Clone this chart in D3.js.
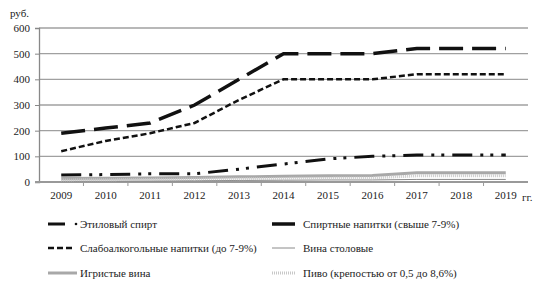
<!DOCTYPE html>
<html>
<head>
<meta charset="utf-8">
<script src="https://cdn.jsdelivr.net/npm/d3@7"></script>
<style>
body { margin: 0; background: #fff; }
svg text { font-family: "Liberation Serif", "Times New Roman", "DejaVu Serif", serif; fill: #222; }
</style>
</head>
<body>
<svg id="chart" width="547" height="287"></svg>
<script>
var years = ["2009", "2010", "2011", "2012", "2013", "2014", "2015", "2016", "2017", "2018", "2019"];
var yTicks = [0, 100, 200, 300, 400, 500, 600];
var ethyl = [27, 29, 32, 32, 50, 70, 90, 100, 105, 105, 105];
var spirits = [190, 210, 230, 300, 400, 500, 500, 500, 520, 520, 520];
var lowAlc = [120, 160, 190, 230, 320, 400, 400, 400, 420, 420, 420];
var tableWine = [3, 3, 4, 5, 6, 7, 8, 8, 10, 10, 10];
var sparkling = [14, 15, 16, 18, 20, 22, 24, 25, 36, 36, 36];
var beer = [8, 9, 10, 12, 13, 14, 15, 16, 24, 24, 24];

var series = [
    { name: "Вина столовые", values: tableWine, color: "#8a8a8a", width: 1, dash: null },
    { name: "Игристые вина", values: sparkling, color: "#a8a8a8", width: 3, dash: null },
    { name: "Пиво (крепостью от 0,5 до 8,6%)", values: beer, color: "#c8c8c8", width: 3, dash: "1,1" },
    { name: "Этиловый спирт", values: ethyl, color: "#111", width: 3, dash: "20,8,3,7,3,8" },
    { name: "Слабоалкогольные напитки (до 7-9%)", values: lowAlc, color: "#111", width: 2.5, dash: "6,3" },
    { name: "Спиртные напитки (свыше 7-9%)", values: spirits, color: "#111", width: 3.5, dash: "24,9" }
];

var svg = d3.select("#chart");
var mLeft = 39, mRight = 528, mTop = 28, mBottom = 182;

var x = d3.scaleBand().domain(years).range([mLeft, mRight]);
var y = d3.scaleLinear().domain([0, 600]).range([mBottom, mTop]);

// gridlines
svg.append("g").selectAll("line")
    .data(yTicks.filter(function (d) { return d > 0; }))
    .enter().append("line")
    .attr("x1", mLeft).attr("x2", mRight)
    .attr("y1", function (d) { return y(d); })
    .attr("y2", function (d) { return y(d); })
    .attr("stroke", "#a0a0a0").attr("stroke-width", 1.3);

// y axis
var yAxis = svg.append("g").attr("transform", "translate(" + mLeft + ",0)")
    .call(d3.axisLeft(y).tickValues(yTicks).tickSize(4).tickPadding(5));
yAxis.attr("font-family", null);
yAxis.select(".domain").attr("stroke", "#888").attr("stroke-width", 1.3);
yAxis.selectAll(".tick line").attr("stroke", "#888");
yAxis.selectAll("text").style("font-size", "11px").attr("fill", "#222");

// x axis
var xAxis = svg.append("g").attr("transform", "translate(0," + mBottom + ")")
    .call(d3.axisBottom(x).tickSize(0).tickPadding(9));
xAxis.attr("font-family", null);
xAxis.select(".domain").remove();
xAxis.selectAll("text").style("font-size", "11px").attr("fill", "#222");
svg.append("line").attr("x1", mLeft - 4).attr("x2", mRight)
    .attr("y1", mBottom).attr("y2", mBottom)
    .attr("stroke", "#999").attr("stroke-width", 2);
svg.append("g").selectAll("line")
    .data(years.slice(1))
    .enter().append("line")
    .attr("x1", function (d) { return x(d); })
    .attr("x2", function (d) { return x(d); })
    .attr("y1", mBottom).attr("y2", mBottom + 4)
    .attr("stroke", "#999");

var line = d3.line()
    .x(function (d, i) { return x(years[i]) + x.bandwidth() / 2; })
    .y(function (d) { return y(d); });

svg.append("g").selectAll("path")
    .data(series)
    .enter().append("path")
    .attr("d", function (s) { return line(s.values); })
    .attr("fill", "none")
    .attr("stroke", function (s) { return s.color; })
    .attr("stroke-width", function (s) { return s.width; })
    .attr("stroke-dasharray", function (s) { return s.dash; });

svg.append("text").attr("x", 10).attr("y", 17).style("font-size", "11px").text("руб.");
svg.append("text").attr("x", 522).attr("y", 201).style("font-size", "11px").text("гг.");

// legend
var legend = [
    { s: series[3], x: 48, y: 224, len: 17, dot: true },
    { s: series[5], x: 272, y: 224, len: 23 },
    { s: series[4], x: 48, y: 248, len: 27 },
    { s: series[0], x: 272, y: 248, len: 23 },
    { s: series[1], x: 48, y: 273, len: 29 },
    { s: series[2], x: 272, y: 273, len: 23 }
];
var lg = svg.append("g").selectAll("g").data(legend).enter().append("g");
lg.append("line")
    .attr("x1", function (d) { return d.x; })
    .attr("x2", function (d) { return d.x + d.len; })
    .attr("y1", function (d) { return d.y; })
    .attr("y2", function (d) { return d.y; })
    .attr("stroke", function (d) { return d.s.color; })
    .attr("stroke-width", function (d) { return d.s.width; })
    .attr("stroke-dasharray", function (d) {
        if (d.dot) return null;
        return d.s.dash === "6,3" ? "6,3" : (d.s.dash === "1,1" ? "1,1" : null);
    });
lg.filter(function (d) { return d.dot; }).append("circle")
    .attr("cx", function (d) { return d.x + d.len + 11; })
    .attr("cy", function (d) { return d.y; })
    .attr("r", 1.3).attr("fill", "#111");
lg.append("text")
    .attr("x", function (d) { return d.x + (d.x < 100 ? 32 : 31); })
    .attr("y", function (d) { return d.y + 4; })
    .style("font-size", "11px")
    .text(function (d) { return d.s.name; });
</script>
</body>
</html>
